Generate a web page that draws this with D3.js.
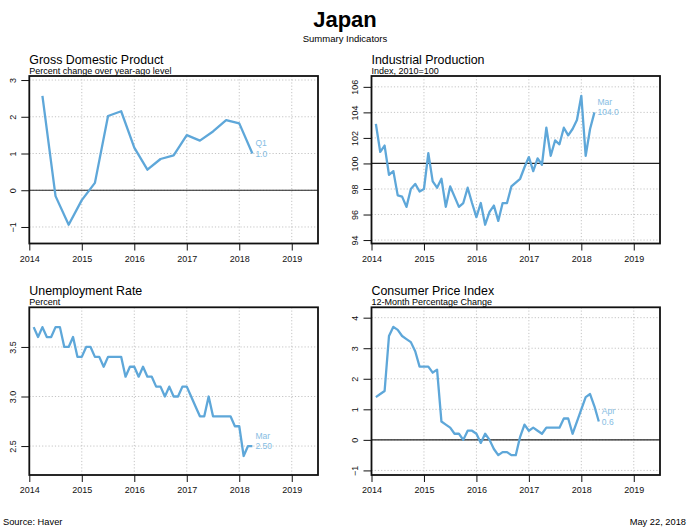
<!DOCTYPE html>
<html>
<head>
<meta charset="utf-8">
<script src="https://cdn.jsdelivr.net/npm/d3@7"></script>
<style>
  html, body { margin: 0; padding: 0; background: #fff; }
  svg text { font-family: Arial, "Liberation Sans", Helvetica, sans-serif; }
</style>
</head>
<body>
<svg id="chart" width="689" height="530"></svg>
<script>
(function () {
    const W = 689, H = 530;

    // x axis: years
    const yearTicks = [2014, 2015, 2016, 2017, 2018, 2019];

    // GDP, quarterly from 2014 Q1
    const gdpStart = 2014;
    const gdpValues = [2.57, -0.16, -0.94, -0.27, 0.20, 2.02, 2.15, 1.16, 0.56, 0.85, 0.95, 1.50,
        1.35, 1.60, 1.91, 1.82, 1.00];
    const gdpTicks = [-1, 0, 1, 2, 3];

    // Industrial production, monthly from Jan 2014
    const ipStart = 2014;
    const ipValues = [103.1, 100.9, 101.4, 99.1, 99.4, 97.5, 97.4, 96.6, 98.0, 98.4, 97.8, 98.0,
        100.8, 98.6, 98.1, 98.8, 96.6, 98.2, 97.4, 96.6, 96.9, 98.1, 96.9, 95.8,
        96.9, 95.2, 96.2, 96.7, 95.5, 96.9, 96.9, 98.2, 98.5, 98.8, 99.7, 100.5,
        99.4, 100.4, 99.9, 102.8, 100.6, 101.8, 101.5, 102.8, 102.2, 102.7, 103.4, 105.3,
        100.6, 102.7, 104.0];
    const ipTicks = [94, 96, 98, 100, 102, 104, 106];

    // Unemployment rate, monthly from Jan 2014
    const unStart = 2014;
    const unValues = [3.7, 3.6, 3.7, 3.6, 3.6, 3.7, 3.7, 3.5, 3.5, 3.6, 3.4, 3.4,
        3.5, 3.5, 3.4, 3.4, 3.3, 3.4, 3.4, 3.4, 3.4, 3.2, 3.3, 3.3,
        3.2, 3.3, 3.2, 3.2, 3.1, 3.1, 3.0, 3.1, 3.0, 3.0, 3.1, 3.1,
        3.0, 2.9, 2.8, 2.8, 3.0, 2.8, 2.8, 2.8, 2.8, 2.8, 2.7, 2.7,
        2.4, 2.5, 2.5];
    const unTicks = [2.5, 3.0, 3.5];

    // CPI, 12-month % change, monthly from Jan 2014
    const cpiStart = 2014;
    const cpiValues = [1.4, 1.5, 1.6, 3.4, 3.7, 3.6, 3.4, 3.3, 3.2, 2.9, 2.4, 2.4,
        2.4, 2.2, 2.3, 0.6, 0.5, 0.4, 0.2, 0.2, 0.0, 0.3, 0.3, 0.2,
        -0.1, 0.2, 0.0, -0.3, -0.5, -0.4, -0.4, -0.5, -0.5, 0.1, 0.5, 0.3,
        0.4, 0.3, 0.2, 0.4, 0.4, 0.4, 0.4, 0.7, 0.7, 0.2, 0.6, 1.0,
        1.4, 1.5, 1.1, 0.6];
    const cpiTicks = [-1, 0, 1, 2, 3, 4];

    // observations are plotted at the end of their period
    const quarterly = (start, vals) => vals.map((v, i) => ({ t: start + (i + 1) / 4, v: v }));
    const monthly = (start, vals) => vals.map((v, i) => ({ t: start + (i + 1) / 12, v: v }));

    const lineColor = "#5ea7d9";
    const labelColor = "#86bde3";
    const gridColor = "#c4c4c4";

    const svg = d3.select("#chart");

    svg.append("text")
        .attr("x", 345).attr("y", 27)
        .attr("text-anchor", "middle")
        .attr("font-size", 22).attr("font-weight", "bold")
        .text("Japan");
    svg.append("text")
        .attr("x", 345).attr("y", 41.5)
        .attr("text-anchor", "middle")
        .attr("font-size", 9.5)
        .text("Summary Indicators");

    const panels = [
        { title: "Gross Domestic Product", sub: "Percent change over year-ago level",
          left: 29.3, right: 318, top: 76, bottom: 243.5, domain: [-1.45, 3.11],
          ticks: gdpTicks, fmt: d3.format("d"), data: quarterly(gdpStart, gdpValues),
          ref: 0, lab: ["Q1", "1.0"] },
        { title: "Industrial Production", sub: "Index, 2010=100",
          left: 371.5, right: 660, top: 76, bottom: 243.5, domain: [93.73, 106.85],
          ticks: ipTicks, fmt: d3.format("d"), data: monthly(ipStart, ipValues),
          ref: 100, lab: ["Mar", "104.0"] },
        { title: "Unemployment Rate", sub: "Percent",
          left: 29.3, right: 318, top: 307.3, bottom: 475, domain: [2.208, 3.9],
          ticks: unTicks, fmt: d3.format(".1f"), data: monthly(unStart, unValues),
          ref: null, lab: ["Mar", "2.50"] },
        { title: "Consumer Price Index", sub: "12-Month Percentage Change",
          left: 371.5, right: 660, top: 307.3, bottom: 475, domain: [-1.15, 4.34],
          ticks: cpiTicks, fmt: d3.format("d"), data: monthly(cpiStart, cpiValues),
          ref: 0, lab: ["Apr", "0.6"] }
    ];

    panels.forEach(p => {
        const g = svg.append("g");
        const x = d3.scaleLinear().domain([2014, 2019.5]).range([p.left, p.right]);
        const y = d3.scaleLinear().domain(p.domain).range([p.bottom, p.top]);

        // titles
        g.append("text")
            .attr("x", p.left).attr("y", p.top - 12)
            .attr("font-size", 12.4)
            .text(p.title);
        g.append("text")
            .attr("x", p.left).attr("y", p.top - 2.3)
            .attr("font-size", 9)
            .text(p.sub);

        // dotted grid
        g.append("g").selectAll("line")
            .data(yearTicks.filter(d => d > 2014))
            .enter().append("line")
            .attr("x1", d => x(d)).attr("x2", d => x(d))
            .attr("y1", p.top).attr("y2", p.bottom)
            .attr("stroke", gridColor).attr("stroke-dasharray", "1.2,2");
        g.append("g").selectAll("line")
            .data(p.ticks)
            .enter().append("line")
            .attr("x1", p.left).attr("x2", p.right)
            .attr("y1", d => y(d)).attr("y2", d => y(d))
            .attr("stroke", gridColor).attr("stroke-dasharray", "1.2,2");

        // reference line
        if (p.ref !== null) {
            g.append("line")
                .attr("x1", p.left).attr("x2", p.right)
                .attr("y1", y(p.ref)).attr("y2", y(p.ref))
                .attr("stroke", "#222").attr("stroke-width", 1.2);
        }

        // x axis
        g.append("g")
            .attr("transform", `translate(0,${p.bottom})`)
            .call(d3.axisBottom(x).tickValues(yearTicks).tickFormat(d3.format("d"))
                .tickSize(7).tickPadding(5).tickSizeOuter(0))
            .call(a => a.select(".domain").remove())
            .call(a => a.selectAll("text").attr("font-size", 9).attr("font-family", null).attr("fill", "#111"))
            .call(a => a.selectAll("line").attr("stroke", "#111"));

        // y axis with rotated labels
        const ya = g.append("g")
            .attr("transform", `translate(${p.left},0)`)
            .call(d3.axisLeft(y).tickValues(p.ticks).tickFormat(p.fmt)
                .tickSize(8).tickSizeOuter(0))
            .call(a => a.select(".domain").remove())
            .call(a => a.selectAll("line").attr("stroke", "#111"));
        ya.selectAll("text")
            .attr("font-size", 9).attr("font-family", null).attr("fill", "#111")
            .attr("x", 0).attr("dy", null)
            .attr("text-anchor", "middle")
            .attr("transform", "translate(-16.5,0) rotate(-90)")
            .attr("y", 3.2);

        // series
        const line = d3.line().x(d => x(d.t)).y(d => y(d.v));
        g.append("path")
            .datum(p.data)
            .attr("d", line)
            .attr("fill", "none")
            .attr("stroke", lineColor)
            .attr("stroke-width", 2.3)
            .attr("stroke-linejoin", "round");

        // last value label
        const last = p.data[p.data.length - 1];
        g.append("text")
            .attr("x", x(last.t) + 3).attr("y", y(last.v) - 7.5)
            .attr("font-size", 8.5).attr("fill", labelColor)
            .text(p.lab[0]);
        g.append("text")
            .attr("x", x(last.t) + 3).attr("y", y(last.v) + 3)
            .attr("font-size", 8.5).attr("fill", labelColor)
            .text(p.lab[1]);

        // frame
        g.append("rect")
            .attr("x", p.left).attr("y", p.top)
            .attr("width", p.right - p.left).attr("height", p.bottom - p.top)
            .attr("fill", "none").attr("stroke", "#111").attr("stroke-width", 1.8);
    });

    svg.append("text")
        .attr("x", 3).attr("y", 525)
        .attr("font-size", 9.3)
        .text("Source: Haver");
    svg.append("text")
        .attr("x", 686).attr("y", 525)
        .attr("text-anchor", "end")
        .attr("font-size", 9.3)
        .text("May 22, 2018");
})();
</script>
</body>
</html>
